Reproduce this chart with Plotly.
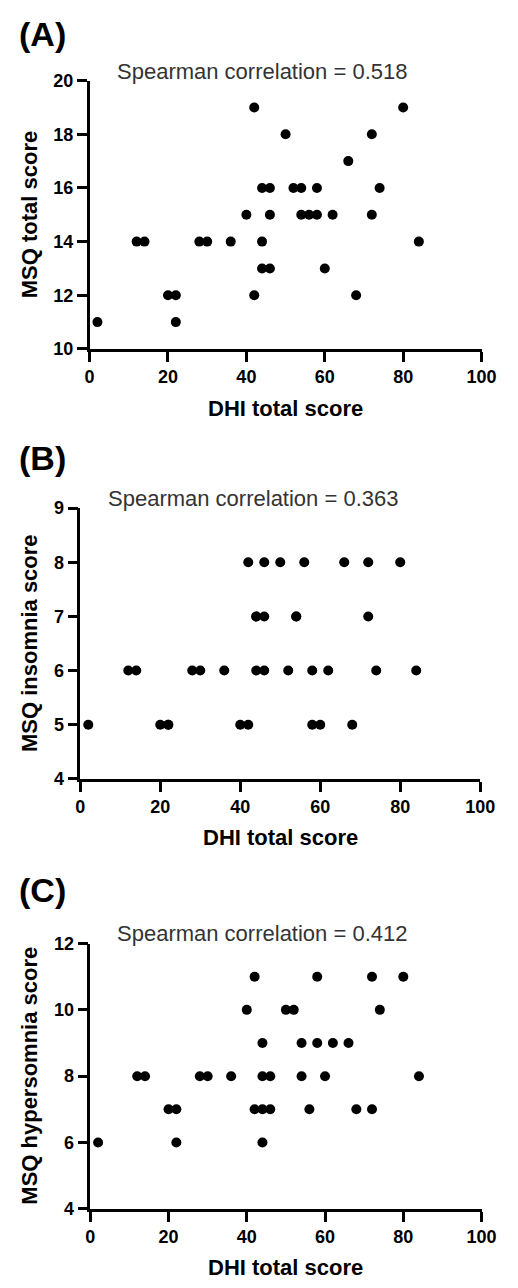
import plotly.graph_objects as go

W, H = 518, 1288

# Panel A: MSQ total score vs DHI total score
a_dhi = [42, 80, 50, 72, 66, 44, 46, 52, 54, 58, 74, 40, 46, 54, 56, 58, 62, 72,
         12, 14, 28, 30, 36, 44, 84, 44, 46, 60, 20, 22, 42, 68, 2, 22]
a_msq = [19, 19, 18, 18, 17, 16, 16, 16, 16, 16, 16, 15, 15, 15, 15, 15, 15, 15,
         14, 14, 14, 14, 14, 14, 14, 13, 13, 13, 12, 12, 12, 12, 11, 11]

# Panel B: MSQ insomnia score vs DHI total score
b_dhi = [42, 46, 50, 56, 66, 72, 80,
         44, 44, 46, 54, 54, 72,
         12, 14, 28, 30, 36, 44, 46, 52, 58, 62, 74, 84,
         2, 20, 22, 22, 40, 42, 58, 60, 68]
b_msq = [8, 8, 8, 8, 8, 8, 8,
         7, 7, 7, 7, 7, 7,
         6, 6, 6, 6, 6, 6, 6, 6, 6, 6, 6, 6,
         5, 5, 5, 5, 5, 5, 5, 5, 5]

# Panel C: MSQ hypersomnia score vs DHI total score
c_dhi = [42, 58, 72, 80,
         40, 50, 52, 74,
         44, 54, 58, 62, 66,
         12, 14, 28, 30, 36, 44, 46, 54, 60, 84,
         20, 22, 42, 44, 46, 56, 68, 72,
         2, 22, 44]
c_msq = [11, 11, 11, 11,
         10, 10, 10, 10,
         9, 9, 9, 9, 9,
         8, 8, 8, 8, 8, 8, 8, 8, 8, 8,
         7, 7, 7, 7, 7, 7, 7, 7,
         6, 6, 6]

panel_labels = ["(A)", "(B)", "(C)"]
corr_texts = ["Spearman correlation = 0.518",
              "Spearman correlation = 0.363",
              "Spearman correlation = 0.412"]
y_titles = ["MSQ total score", "MSQ insomnia score", "MSQ hypersomnia score"]
x_title = "DHI total score"
x_ticks = [0, 20, 40, 60, 80, 100]
y_ticks = [[10, 12, 14, 16, 18, 20], [4, 5, 6, 7, 8, 9], [4, 6, 8, 10, 12]]
y_ranges = [[10, 20], [4, 9], [4, 12]]

FONT = "Liberation Sans, Arial, sans-serif"

# pixel geometry of each plot area: (left, right, top, bottom)
boxes = [(88, 495.7, 71.7, 344.3),
         (78.3, 494.3, 506, 781),
         (88.7, 495.7, 948.3, 1217.7)]

def px(x):
    return x / W

def py(y):
    return 1 - y / H

fig = go.Figure()
datasets = [(a_dhi, a_msq), (b_dhi, b_msq), (c_dhi, c_msq)]
for i, (xs, ys) in enumerate(datasets):
    sfx = "" if i == 0 else str(i + 1)
    fig.add_trace(go.Scatter(
        x=xs, y=ys, mode="markers",
        marker=dict(size=10, color="black", line=dict(width=0)),
        xaxis="x" + sfx, yaxis="y" + sfx, showlegend=False,
        cliponaxis=False,
    ))

layout = dict(
    width=W, height=H,
    margin=dict(l=0, r=0, t=0, b=0),
    paper_bgcolor="white", plot_bgcolor="white",
    font=dict(family=FONT, color="black"),
    showlegend=False,
)

annotations = []
for i in range(3):
    sfx = "" if i == 0 else str(i + 1)
    l, r, t, b = boxes[i]
    axis_common = dict(
        showline=True, linecolor="black", linewidth=2.5,
        ticks="outside", ticklen=10, tickwidth=2.5, tickcolor="black",
        showgrid=False, zeroline=False,
        tickfont=dict(family=FONT, size=18, color="black", weight="bold"),
    )
    layout["xaxis" + sfx] = dict(
        domain=[px(l), px(r)], range=[0, 100],
        tickvals=x_ticks, ticktext=["<b>%d</b>" % v for v in x_ticks],
        anchor="y" + sfx, **axis_common)
    layout["yaxis" + sfx] = dict(
        domain=[py(b), py(t)], range=y_ranges[i],
        tickvals=y_ticks[i], ticktext=["<b>%d</b>" % v for v in y_ticks[i]],
        anchor="x" + sfx, **axis_common)

    label_y = [24, 455, 894][i]
    annotations.append(dict(
        text=panel_labels[i], x=px(13), y=py(label_y), xref="paper", yref="paper",
        xanchor="left", yanchor="middle", showarrow=False,
        font=dict(family=FONT, size=34, color="black", weight="bold")))
    corr_y = [62, 496.7, 938.3][i]
    corr_x = [114, 105, 114][i]
    annotations.append(dict(
        text=corr_texts[i], x=px(corr_x), y=py(corr_y), xref="paper", yref="paper",
        xanchor="left", yanchor="middle", showarrow=False,
        font=dict(family=FONT, size=22, color="#333333")))
    annotations.append(dict(
        text=y_titles[i], x=px(25.5), y=py((t + b) / 2), xref="paper", yref="paper",
        xanchor="center", yanchor="middle", textangle=-90, showarrow=False,
        font=dict(family=FONT, size=22, color="black", weight="bold")))
    annotations.append(dict(
        text=x_title, x=px((l + r) / 2), y=py(b + 60), xref="paper", yref="paper",
        xanchor="center", yanchor="middle", showarrow=False,
        font=dict(family=FONT, size=22, color="black", weight="bold")))

layout["annotations"] = annotations
fig.update_layout(**layout)
fig.write_html(
    "out.html",
    config={"displayModeBar": False},
    post_script="document.body.style.margin='0';document.body.style.overflow='hidden';",
)
